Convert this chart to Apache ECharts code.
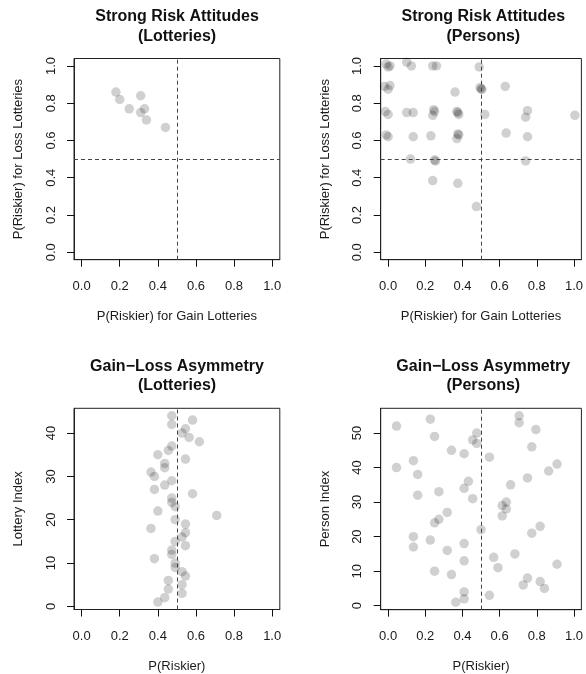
<!DOCTYPE html>
<html>
<head>
<meta charset="utf-8">
<script src="https://cdn.jsdelivr.net/npm/echarts@6/dist/echarts.min.js"></script>
<style>
html,body{margin:0;padding:0;background:#fff;}
#chart{width:586px;height:674px;}
</style>
</head>
<body>
<div id="chart"></div>
<script>
// ---- Data ----
// Panel 1: Strong risk attitudes (lotteries)
var lotGain = [0.18, 0.20, 0.31, 0.25, 0.33, 0.31, 0.34, 0.44];
var lotLoss = [0.86, 0.82, 0.84, 0.77, 0.77, 0.75, 0.71, 0.67];

// Panel 2: Strong risk attitudes (persons)
var perGain = [-0.01, 0.00, 0.01, 0.10, 0.125, 0.24, 0.26, 0.49,
  -0.02, 0.00, 0.01, 0.36, 0.495, 0.50, 0.505, 0.63,
  -0.015, 0.00, 0.10, 0.135, 0.24, 0.245, 0.25, 0.37, 0.375, 0.38, 0.52, 0.75, 0.74, 1.005,
  -0.01, 0.00, 0.135, 0.23, 0.37, 0.375, 0.38, 0.635, 0.75,
  0.12, 0.25, 0.255, 0.74,
  0.24, 0.375, 0.475];
var perLoss = [1.01, 0.995, 1.00, 1.02, 1.00, 1.00, 1.00, 0.995,
  0.89, 0.875, 0.895, 0.86, 0.885, 0.875, 0.875, 0.89,
  0.755, 0.74, 0.75, 0.75, 0.735, 0.765, 0.755, 0.755, 0.75, 0.74, 0.74, 0.76, 0.725, 0.735,
  0.63, 0.62, 0.62, 0.625, 0.61, 0.635, 0.63, 0.64, 0.62,
  0.50, 0.495, 0.49, 0.49,
  0.385, 0.37, 0.245];

// Panel 3: Gain-loss asymmetry by lottery (index 1..44)
var lotteryRiskier = [0.400, 0.436, 0.527, 0.455, 0.527, 0.455, 0.545, 0.527, 0.491, 0.491,
  0.382, 0.473, 0.473, 0.545, 0.491, 0.527, 0.545, 0.364, 0.545, 0.491,
  0.709, 0.400, 0.491, 0.473, 0.473, 0.582, 0.382, 0.436, 0.473, 0.382,
  0.364, 0.436, 0.436, 0.545, 0.400, 0.455, 0.473, 0.618, 0.564, 0.527,
  0.545, 0.473, 0.582, 0.473];

// Panel 4: Gain-loss asymmetry by person (index 1..55)
var personRiskier = [0.364, 0.409, 0.545, 0.409, 0.841, 0.727, 0.818, 0.750, 0.341, 0.250,
  0.591, 0.909, 0.409, 0.568, 0.682, 0.318, 0.136, 0.409, 0.227, 0.136,
  0.773, 0.500, 0.818, 0.250, 0.273, 0.614, 0.318, 0.636, 0.614, 0.636,
  0.455, 0.159, 0.273, 0.409, 0.659, 0.432, 0.750, 0.159, 0.864, 0.045,
  0.909, 0.136, 0.545, 0.409, 0.341, 0.773, 0.477, 0.455, 0.250, 0.477,
  0.795, 0.045, 0.705, 0.227, 0.705];

// Tick labels
var probTicks = [0, 0.2, 0.4, 0.6, 0.8, 1.0];
var lotteryTicks = [0, 10, 20, 30, 40];
var personTicks = [0, 10, 20, 30, 40, 50];

var titles = [
  ['Strong Risk Attitudes', '(Lotteries)'],
  ['Strong Risk Attitudes', '(Persons)'],
  ['Gain\u2212Loss Asymmetry', '(Lotteries)'],
  ['Gain\u2212Loss Asymmetry', '(Persons)']
];

// ---- Build ----
var FONT = '"Liberation Sans", Arial, Helvetica, sans-serif';
var TXT = '#1a1a1a';
var grids = [
  {left: 74, top: 58.5, width: 205.8, height: 201.2},
  {left: 380.7, top: 58.5, width: 205.2, height: 201.2},
  {left: 74, top: 408.3, width: 205.8, height: 201.2},
  {left: 380.7, top: 408.3, width: 205.2, height: 201.4}
];
grids.forEach(function (g) { g.show = true; g.borderColor = '#222'; g.borderWidth = 1; g.backgroundColor = 'rgba(0,0,0,0)'; });

var AXLINE = {show: true, onZero: false, lineStyle: {color: '#222', width: 1}};
var TICK = function (vals) {
  return {show: true, customValues: vals, length: 7, inside: false, lineStyle: {color: '#111', width: 1}};
};
function xAx(i, name) {
  return {
    type: 'value', gridIndex: i, min: -0.04, max: 1.04,
    splitLine: {show: false},
    axisLine: AXLINE,
    axisTick: TICK(probTicks),
    axisLabel: {customValues: probTicks, formatter: function (v) { return v.toFixed(1); },
      margin: 20, color: TXT, fontSize: 13, fontFamily: FONT},
    name: name, nameLocation: 'middle', nameGap: 50,
    nameTextStyle: {color: TXT, fontSize: 13, fontFamily: FONT}
  };
}
function yAx(i, name, min, max, ticks, fmt) {
  return {
    type: 'value', gridIndex: i, min: min, max: max,
    splitLine: {show: false},
    axisLine: AXLINE,
    axisTick: TICK(ticks),
    axisLabel: {customValues: ticks, formatter: fmt, rotate: 90,
      margin: 16.5, color: TXT, fontSize: 13, fontFamily: FONT},
    name: name, nameLocation: 'middle', nameGap: 49,
    nameTextStyle: {color: TXT, fontSize: 13, fontFamily: FONT}
  };
}
var fmt1 = function (v) { return v.toFixed(1); };
var fmt0 = function (v) { return String(Math.round(v)); };

var xAxes = [
  xAx(0, 'P(Riskier) for Gain Lotteries'),
  xAx(1, 'P(Riskier) for Gain Lotteries'),
  xAx(2, 'P(Riskier)'),
  xAx(3, 'P(Riskier)')
];
var yAxes = [
  yAx(0, 'P(Riskier) for Loss Lotteries', -0.04, 1.04, probTicks, fmt1),
  yAx(1, 'P(Riskier) for Loss Lotteries', -0.04, 1.04, probTicks, fmt1),
  yAx(2, 'Lottery Index', -0.72, 45.72, lotteryTicks, fmt0),
  yAx(3, 'Person Index', -1.16, 57.16, personTicks, fmt0)
];

function zip(a, b) { return a.map(function (v, i) { return [v, b[i]]; }); }
function indexed(a) { return a.map(function (v, i) { return [v, i + 1]; }); }

var PT = {color: 'rgba(0,0,0,0.23)'};
function scat(i, data, lines) {
  return {
    type: 'scatter', xAxisIndex: i, yAxisIndex: i, data: data,
    symbol: 'circle', symbolSize: 9.5, itemStyle: PT, silent: true,
    markLine: {
      silent: true, symbol: ['none', 'none'], label: {show: false},
      lineStyle: {type: [4, 3], color: '#444', width: 1},
      emphasis: {disabled: true},
      data: lines
    }
  };
}
var series = [
  scat(0, zip(lotGain, lotLoss), [{xAxis: 0.5}, {yAxis: 0.5}]),
  scat(1, zip(perGain, perLoss), [{xAxis: 0.5}, {yAxis: 0.5}]),
  scat(2, indexed(lotteryRiskier), [{xAxis: 0.5}]),
  scat(3, indexed(personRiskier), [{xAxis: 0.5}])
];

var centers = [177, 483.3, 177, 483.3];
var tops = [17, 17, 366.5, 366.5];
var graphics = [];
titles.forEach(function (t, i) {
  t.forEach(function (line, j) {
    graphics.push({
      type: 'text', x: centers[i], y: tops[i] + j * 19.5,
      style: {text: line, textAlign: 'center', textVerticalAlign: 'middle',
        font: 'bold 16px ' + FONT, fill: '#111'}
    });
  });
});

var chart = echarts.init(document.getElementById('chart'), null, {renderer: 'canvas'});
chart.setOption({
  animation: false,
  backgroundColor: '#fff',
  grid: grids,
  xAxis: xAxes,
  yAxis: yAxes,
  series: series,
  graphic: graphics
});
</script>
</body>
</html>
